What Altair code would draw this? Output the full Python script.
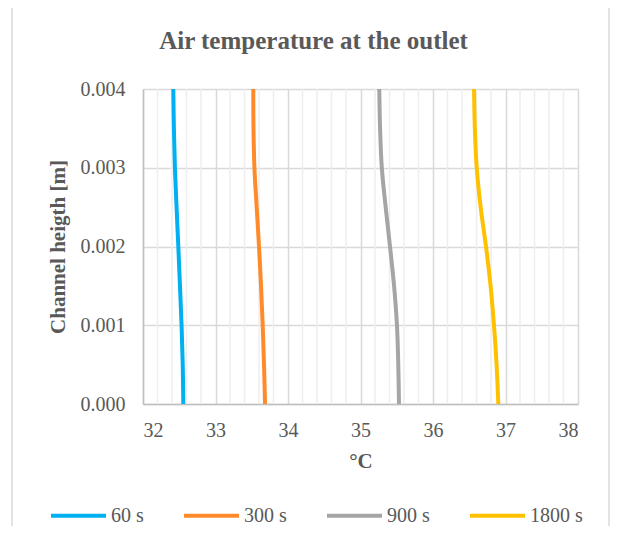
import altair as alt
import pandas as pd

# ---- data ----
series_names = ["60 s", "300 s", "900 s", "1800 s"]
series_colors = ["#00B0F0", "#FF8A2A", "#A5A5A5", "#FFC000"]
heights = [0.004, 0.0035, 0.003, 0.0025, 0.002, 0.0015, 0.001, 0.0005, 0.0]
t60 = [32.418, 32.426, 32.440, 32.463, 32.487, 32.510, 32.532, 32.548, 32.556]
t300 = [33.521, 33.524, 33.537, 33.568, 33.600, 33.628, 33.651, 33.669, 33.683]
t900 = [35.259, 35.270, 35.294, 35.347, 35.407, 35.463, 35.503, 35.521, 35.531]
t1800 = [36.566, 36.577, 36.603, 36.657, 36.731, 36.794, 36.841, 36.877, 36.901]
x_ticks = [32, 33, 34, 35, 36, 37, 38]
x_minor = [32.2, 32.4, 32.6, 32.8, 33.2, 33.4, 33.6, 33.8, 34.2, 34.4, 34.6, 34.8,
           35.2, 35.4, 35.6, 35.8, 36.2, 36.4, 36.6, 36.8, 37.2, 37.4, 37.6, 37.8]
y_ticks = [0.0, 0.001, 0.002, 0.003, 0.004]

rows = []
for name, vals in zip(series_names, [t60, t300, t900, t1800]):
    for h, t in zip(heights, vals):
        rows.append({"series": name, "T": t, "h": h})
df = pd.DataFrame(rows)

FONT = "Liberation Serif"
TXT = "#595959"
W, H = 435, 315

xscale = alt.Scale(domain=[32, 38], nice=False, zero=False)
yscale = alt.Scale(domain=[0, 0.004], nice=False, zero=False)

xaxis = alt.Axis(title="°C", values=x_ticks, format="d", grid=True,
                 gridColor="#d9d9d9", gridWidth=1.5,
                 domainColor="#bfbfbf", domainWidth=1.5,
                 ticks=False, labelPadding=16, titlePadding=10,
                 labelFontSize=20, titleFontSize=21)

border = alt.Chart(pd.DataFrame({"a": [0]})).mark_rect(
    fill="white", fillOpacity=0, stroke="#d9d9d9", strokeWidth=1.5
).encode(
    x=alt.value(-131), x2=alt.value(466), y=alt.value(-82), y2=alt.value(460)
)

minor = alt.Chart(pd.DataFrame({"v": x_minor})).mark_rule(
    color="#eeeeee", strokeWidth=1.5
).encode(
    x=alt.X("v:Q", scale=xscale, axis=xaxis),
    y=alt.value(0), y2=alt.value(H)
)

lines = alt.Chart(df).mark_line(strokeWidth=4, interpolate="catmull-rom").encode(
    x=alt.X("T:Q", scale=xscale, axis=xaxis),
    y=alt.Y("h:Q", scale=yscale,
            axis=alt.Axis(title="Channel heigth [m]", values=y_ticks, format=".3f",
                          grid=True, gridColor="#d9d9d9", gridWidth=1.5,
                          domainColor="#bfbfbf", domainWidth=1.5,
                          ticks=False, labelPadding=18, titlePadding=12,
                          labelFontSize=20, titleFontSize=21)),
    color=alt.Color("series:N",
                    scale=alt.Scale(domain=series_names, range=series_colors),
                    legend=alt.Legend(title=None, orient="none", direction="horizontal",
                                      legendX=-94, legendY=397,
                                      symbolType="stroke", symbolSize=3025,
                                      symbolStrokeWidth=4, labelFontSize=20,
                                      labelColor=TXT, labelFont=FONT,
                                      columnPadding=32, labelOffset=3)),
    order=alt.Order("h:Q", sort="descending"),
    detail="series:N",
)

chart = alt.layer(border, minor, lines).properties(
    width=W, height=H,
    title=alt.TitleParams("Air temperature at the outlet", fontSize=25, font=FONT,
                          fontWeight="bold", color=TXT, anchor="middle", dx=-47,
                          offset=-48, frame="group"),
    autosize=alt.AutoSizeParams(type="none"),
    padding={"left": 135, "top": 81, "right": 32, "bottom": 122},
).configure_axis(
    labelFont=FONT, titleFont=FONT, labelColor=TXT, titleColor=TXT,
    titleFontWeight="bold"
).configure_view(stroke=None)

chart.save("out.html", embed_options={"renderer": "svg", "actions": False})
